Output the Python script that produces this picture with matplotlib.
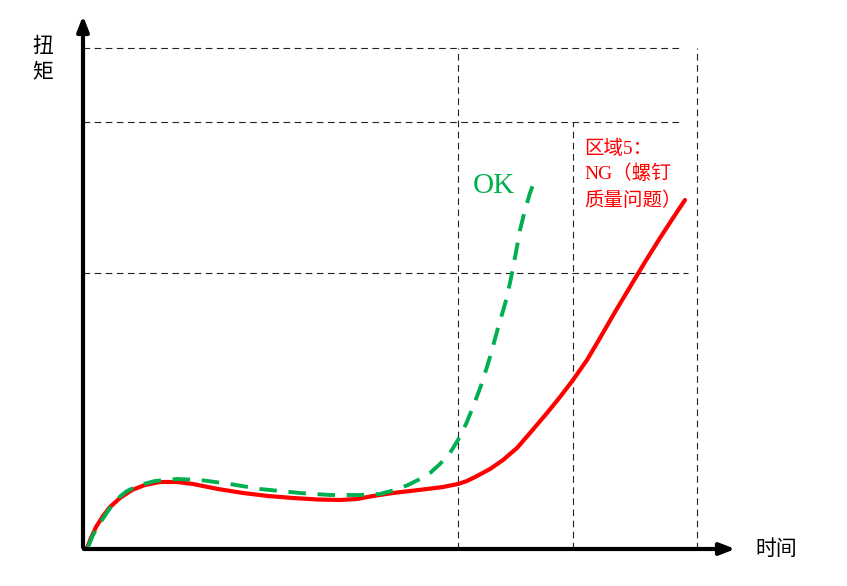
import matplotlib
matplotlib.use("Agg")
import matplotlib.pyplot as plt
import numpy as np

plt.rcParams['font.family'] = ['Noto Sans CJK SC', 'DejaVu Sans']

# time / torque in picture units (origin at the axes corner)
red_t = [4, 8, 13, 20, 27, 37, 49, 62, 77, 94, 110, 135, 160, 185, 210, 235, 257, 274,
         290, 310, 327, 344, 360, 375, 384, 394, 407, 420, 434, 447, 464, 477, 490, 504,
         517, 532, 547, 562, 577, 590, 602]
red_q = [1, 11, 22, 33, 42, 51, 59, 64, 67, 67, 65, 60, 56, 53, 51, 49.5, 49, 50,
         53, 56, 58, 60, 62, 65, 68, 73, 80, 89, 101, 116, 136, 152, 169, 189,
         211, 237, 262, 287, 311, 331, 349]

ok_t = [5, 10, 17, 25, 34, 44, 57, 72, 94, 117, 147, 177, 217, 247, 277, 297, 312, 325,
        337, 347, 357, 367, 375, 383, 390, 399, 407, 415, 424, 429, 433, 437, 442, 447, 450]
ok_q = [2, 14, 26, 38, 50, 58, 64, 68, 70, 69, 65, 60, 56, 54, 54, 55, 59, 64,
        70, 76, 85, 96, 109, 125, 142, 166, 192, 221, 252, 276, 297, 319, 339, 356, 364]

# dashed guide lines (torque levels, time marks)
h_levels = [501, 427, 276]
h_ends = [599, 597, 605]
v_marks = [375, 490, 614]
v_tops = [501, 427, 501]

fig = plt.figure(figsize=(8.47, 5.86), dpi=100)
ax = fig.add_axes([0, 0, 1, 1])
ax.set_xlim(-83, 764)
ax.set_ylim(-37, 549)
ax.axis('off')

for q, e in zip(h_levels, h_ends):
    ax.plot([0, e], [q, q], color='#222222', lw=0.8, dashes=(6, 4))
for t, top in zip(v_marks, v_tops):
    ax.plot([t, t], [0, top], color='#222222', lw=0.8, dashes=(6, 4))

ax.plot(red_t, red_q, color='#ff0000', lw=3.0, solid_capstyle='round', solid_joinstyle='round', zorder=3)
ok_line, = ax.plot(ok_t, ok_q, color='#00b050', lw=2.8, zorder=4)
ok_line.set_dashes((4.5, 3))

# axes with arrows
ax.annotate('', xy=(0, 536), xytext=(0, -1),
            arrowprops=dict(arrowstyle='-|>,head_length=0.9,head_width=0.35', color='black', lw=3))
ax.annotate('', xy=(655, 0), xytext=(-2, 0),
            arrowprops=dict(arrowstyle='-|>,head_length=0.9,head_width=0.35', color='black', lw=3))

ax.text(-40, 503, '扭', fontsize=15, ha='center', va='center')
ax.text(-40, 478, '矩', fontsize=15, ha='center', va='center')
ax.text(672, 0, '时间', fontsize=15, ha='left', va='center')

ax.text(390, 363, 'OK', fontsize=21, color='#00b050', ha='left', va='center',
        family=['Liberation Serif', 'Noto Sans CJK SC'])
ax.text(501, 400, '区域5：', fontsize=14, color='#ff0000', ha='left', va='center',
        family=['Liberation Serif', 'Noto Sans CJK SC'])
ax.text(501, 375, 'NG（螺钉', fontsize=14, color='#ff0000', ha='left', va='center',
        family=['Liberation Serif', 'Noto Sans CJK SC'])
ax.text(501, 348, '质量问题）', fontsize=14, color='#ff0000', ha='left', va='center',
        family=['Liberation Serif', 'Noto Sans CJK SC'])

fig.savefig('out.png', dpi=100)
